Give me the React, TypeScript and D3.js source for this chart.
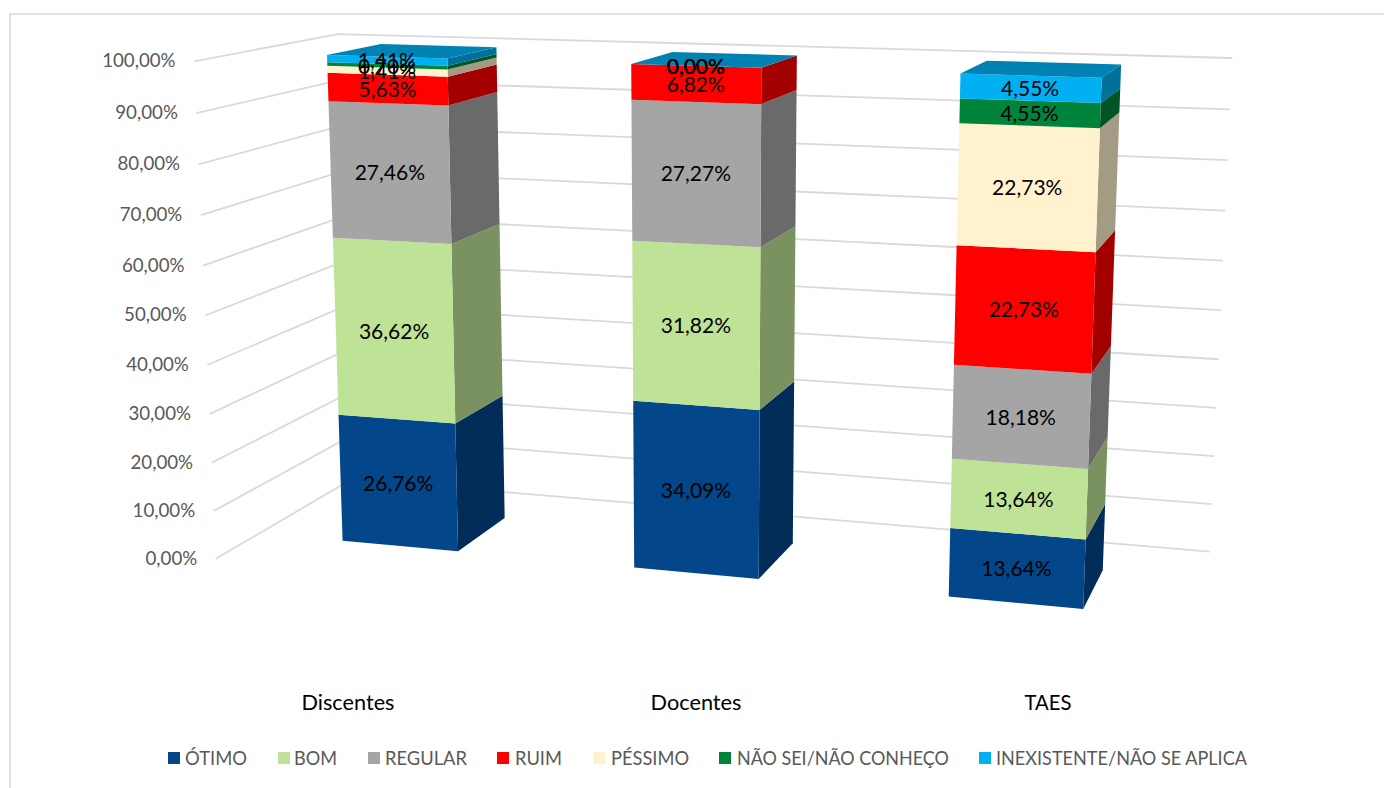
import React from "react";
import * as d3 from "d3";

const categories = ["Discentes", "Docentes", "TAES"];
const seriesNames = ["ÓTIMO", "BOM", "REGULAR", "RUIM", "PÉSSIMO", "NÃO SEI/NÃO CONHEÇO", "INEXISTENTE/NÃO SE APLICA"];
const seriesColors = ["#03468A", "#BFE396", "#A5A5A5", "#FF0000", "#FFF2CC", "#00843C", "#00B0F0"];
const otimo = [26.76, 34.09, 13.64];
const bom = [36.62, 31.82, 13.64];
const regular = [27.46, 27.27, 18.18];
const ruim = [5.63, 6.82, 22.73];
const pessimo = [1.41, 0, 22.73];
const naoSei = [0.7, 0, 4.55];
const inexistente = [1.41, 0, 4.55];
const seriesValues = [otimo, bom, regular, ruim, pessimo, naoSei, inexistente];
const tickValues = [0, 10, 20, 30, 40, 50, 60, 70, 80, 90, 100];
const legendLayout = [[168, 185, 62], [278, 294, 43], [368, 385, 82], [497, 515, 47], [593, 611, 78], [719, 737, 212], [979, 996, 251]];
const catLabelLayout = [[348, 93], [696, 91], [1048, 47]];

// Camera calibration: [X, value, Z, px, py].
const BAR_WIDTH = 0.135;
const Z_BACK = 0.3;
const Z_FRONT = 0.7;
const wallAnchors = [
  [0, 0, 1, 215, 559], [0, 100, 1, 193, 60],
  [0, 0, 0, 352, 479], [0, 100, 0, 338, 33],
  [1, 0, 0, 1210, 551], [1, 100, 0, 1233, 58],
];
// [category, side (0 left, 1 right), value, depth (0 back, 1 front), px, py]
const barAnchors = [
  [0, 0, 0, 1, 343, 540], [0, 1, 0, 1, 458, 551], [0, 0, 100, 1, 328, 54], [0, 1, 100, 1, 447, 65],
  [0, 1, 0, 0, 504, 518], [0, 1, 100, 0, 496, 47], [0, 0, 100, 0, 382, 44],
  [1, 0, 0, 1, 636, 568], [1, 1, 0, 1, 758, 578], [1, 0, 100, 1, 632, 63], [1, 1, 100, 1, 761, 67],
  [1, 1, 0, 0, 792, 545], [1, 1, 100, 0, 796, 55], [1, 0, 100, 0, 672, 52],
  [2, 0, 0, 1, 950, 596], [2, 1, 0, 1, 1083, 608], [2, 0, 100, 1, 962, 73], [2, 1, 100, 1, 1101, 78],
  [2, 1, 0, 0, 1102, 572], [2, 1, 100, 0, 1120, 64], [2, 0, 100, 0, 987, 61],
];

function solve(A: number[][], b: number[]) {
  const n = b.length;
  const M = A.map((r, i) => [...r, b[i]]);
  for (let c = 0; c < n; c++) {
    let piv = c;
    for (let r = c + 1; r < n; r++) if (Math.abs(M[r][c]) > Math.abs(M[piv][c])) piv = r;
    [M[c], M[piv]] = [M[piv], M[c]];
    for (let r = 0; r < n; r++) {
      if (r === c) continue;
      const f = M[r][c] / M[c][c];
      for (let k = c; k <= n; k++) M[r][k] -= f * M[c][k];
    }
  }
  return M.map((r, i) => r[n] / r[i]);
}

function fit(pts: number[][]) {
  const A: number[][] = Array.from({ length: 11 }, () => new Array(11).fill(0));
  const B: number[] = new Array(11).fill(0);
  const add = (row: number[], t: number) => {
    for (let i = 0; i < 11; i++) {
      B[i] += row[i] * t;
      for (let j = 0; j < 11; j++) A[i][j] += row[i] * row[j];
    }
  };
  for (const [X, v, Z, px, py] of pts) {
    const Y = v / 100, x = px / 1000, y = py / 1000;
    add([X, Y, Z, 1, 0, 0, 0, 0, -x * X, -x * Y, -x * Z], x);
    add([0, 0, 0, 0, X, Y, Z, 1, -y * X, -y * Y, -y * Z], y);
  }
  return solve(A, B);
}

const camera = fit([
  ...wallAnchors,
  ...barAnchors.map(([c, s, v, d, px, py]) => [(c + 0.5) / 3 + (s - 0.5) * BAR_WIDTH, v, d ? Z_FRONT : Z_BACK, px, py]),
]);

const P = (X: number, v: number, Z: number): [number, number] => {
  const p = camera;
  const Y = v / 100;
  const w = p[8] * X + p[9] * Y + p[10] * Z + 1;
  return [(1000 * (p[0] * X + p[1] * Y + p[2] * Z + p[3])) / w, (1000 * (p[4] * X + p[5] * Y + p[6] * Z + p[7])) / w];
};

const poly = d3.line<[number, number]>().x((d) => d[0]).y((d) => d[1]);
const path = (pts: [number, number][]) => poly(pts)! + "Z";
const shade = (c: string, f: number) => {
  const r = d3.rgb(c);
  return d3.rgb(r.r * f, r.g * f, r.b * f).formatHex();
};

const rows = categories.map((c, i) => {
  const o: Record<string, number> = {};
  seriesNames.forEach((s, k) => (o[s] = seriesValues[k][i]));
  return o;
});
const stacked = d3.stack<Record<string, number>>().keys(seriesNames)(rows);
const gap = 1 - BAR_WIDTH * 3;
const band = d3.scaleBand<string>().domain(categories).range([0, 1]).paddingInner(gap).paddingOuter(gap / 2);
const color = d3.scaleOrdinal<string, string>().domain(seriesNames).range(seriesColors);
const pctFmt = (v: number) => v.toFixed(2).replace(".", ",") + "%";

const FONT = "Lato, Carlito, sans-serif";

export default function App() {
  return (
    <svg width={1384} height={788} style={{ position: "fixed", left: 0, top: 0, background: "#fff" }} fontFamily={FONT}>
      <rect x={10} y={14} width={1500} height={900} fill="#fff" stroke="#D9D9D9" strokeWidth={1.5} />
      <g fill="none" stroke="#D9D9D9" strokeWidth={1.8}>
        {tickValues.map((t) => (
          <path key={t} d={poly([P(0, t, 1), P(0, t, 0), P(1, t, 0)])!} />
        ))}
      </g>
      <g fill="#595959" fontSize={18.7} textAnchor="end">
        {tickValues.map((t) => {
          const [x, y] = P(0, t, 1);
          return (
            <text key={t} x={x - 18.5} y={y - 1} dominantBaseline="central">
              {pctFmt(t)}
            </text>
          );
        })}
      </g>
      {categories.map((c, i) => {
        const x0 = band(c)!, x1 = x0 + band.bandwidth();
        const top = stacked[stacked.length - 1][i][1];
        return (
          <g key={c}>
            {stacked.map((s) => {
              const [a, b] = s[i];
              const col = color(s.key);
              return (
                <g key={s.key}>
                  <path d={path([P(x1, a, Z_FRONT), P(x1, a, Z_BACK), P(x1, b, Z_BACK), P(x1, b, Z_FRONT)])} fill={shade(col, 0.64)} />
                  <path d={path([P(x0, a, Z_FRONT), P(x1, a, Z_FRONT), P(x1, b, Z_FRONT), P(x0, b, Z_FRONT)])} fill={col} />
                </g>
              );
            })}
            <path d={path([P(x0, top, Z_FRONT), P(x1, top, Z_FRONT), P(x1, top, Z_BACK), P(x0, top, Z_BACK)])} fill={shade(seriesColors[6], 0.74)} />
          </g>
        );
      })}
      <g fill="#000" fontSize={21} textAnchor="middle">
        {categories.flatMap((c, i) =>
          stacked.map((s, k) => {
            const [a, b] = s[i];
            const [x, y] = P(band(c)! + band.bandwidth() / 2, (a + b) / 2, Z_FRONT);
            return (
              <text key={c + k} x={x} y={y - 0.5} dominantBaseline="central">
                {pctFmt(seriesValues[k][i])}
              </text>
            );
          })
        )}
      </g>
      <g fill="#000" fontSize={21} textAnchor="middle">
        {categories.map((c, i) => (
          <text key={c} x={catLabelLayout[i][0]} y={701.5} dominantBaseline="central" textLength={catLabelLayout[i][1]} lengthAdjust="spacingAndGlyphs">
            {c}
          </text>
        ))}
      </g>
      <g fontSize={18.7} fill="#595959">
        {seriesNames.map((s, k) => (
          <g key={s}>
            <rect x={legendLayout[k][0]} y={752} width={12} height={12} fill={seriesColors[k]} />
            <text x={legendLayout[k][1]} y={758} dominantBaseline="central" textLength={legendLayout[k][2]} lengthAdjust="spacingAndGlyphs">
              {s}
            </text>
          </g>
        ))}
      </g>
    </svg>
  );
}
